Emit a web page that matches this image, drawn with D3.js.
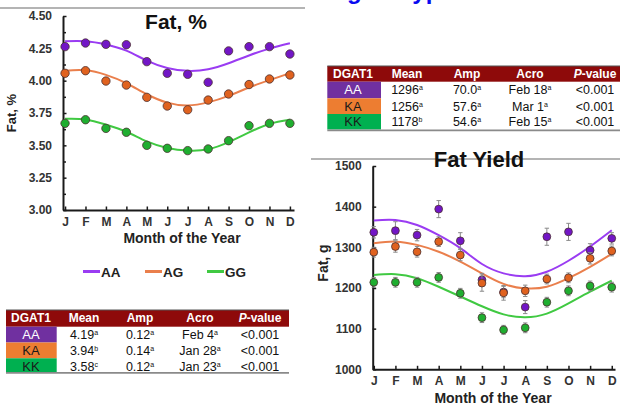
<!DOCTYPE html>
<html><head><meta charset="utf-8">
<script src="https://cdn.jsdelivr.net/npm/d3@7"></script>
<style>
body{margin:0;background:#fff;}
svg{display:block;font-family:"Liberation Sans",Arial,Helvetica,sans-serif;}
</style>
</head><body>
<svg id="c" width="620" height="408"></svg>
<script>
// ---------------- DATA ----------------
const months = ["J","F","M","A","M","J","J","A","S","O","N","D"];
const seriesNames = ["AA","AG","GG"];

// Fat, % (monthly means)
const fatPctAA = [4.263,4.291,4.281,4.278,4.147,4.057,4.049,3.987,4.230,4.263,4.263,4.206];
const fatPctAG = [4.057,4.077,3.997,3.966,3.871,3.804,3.775,3.850,3.897,3.970,4.013,4.044];
const fatPctGG = [3.670,3.698,3.631,3.601,3.500,3.477,3.459,3.472,3.536,3.652,3.670,3.670];
// Fat, % fitted curves (read at each month)
const fitPctAA = [4.305,4.305,4.280,4.232,4.155,4.098,4.076,4.088,4.135,4.195,4.248,4.289];
const fitPctAG = [4.077,4.080,4.045,3.980,3.895,3.830,3.808,3.832,3.882,3.947,4.004,4.058];
const fitPctGG = [3.705,3.700,3.660,3.605,3.530,3.480,3.460,3.470,3.525,3.600,3.665,3.697];
const pctTicks = [3.00,3.25,3.50,3.75,4.00,4.25,4.50];
const pctMinorTicks = [3.125,3.375,3.625,3.875,4.125,4.375];

// Fat yield, g (monthly means and SE)
const yieldAA = [1337,1341,1330,1394,1316,1220,1190,1153,1326,1338,1293,1322];
const yieldAG = [1288,1302,1289,1314,1281,1212,1188,1193,1222,1225,1273,1291];
const yieldGG = [1214,1214,1214,1226,1187,1127,1097,1102,1165,1193,1205,1202];
const errAA = [14,22,14,21,20,16,14,16,21,21,16,14];
const errAG = [12,14,13,12,14,20,18,14,12,12,14,12];
const errGG = [12,12,12,12,12,12,11,12,12,12,12,12];
// Fat yield fitted curves (read at each month)
const fitYieldAA = [1366,1367,1355,1330,1298,1259,1236,1229,1240,1267,1302,1342];
const fitYieldAG = [1310,1314,1306,1289,1265,1236,1210,1199,1203,1224,1252,1284];
const fitYieldGG = [1232,1234,1224,1203,1179,1155,1135,1128,1137,1162,1191,1218];
const yieldTicks = [1000,1100,1200,1300,1400,1500];

// Tables
const tableHead = ["DGAT1","Mean","Amp","Acro","P-value"];
const tableGeno = ["AA","KA","KK"];
const pctMean = ["4.19","3.94","3.58"], pctMeanSup = ["a","b","c"];
const pctAmp = ["0.12","0.14","0.12"], pctAmpSup = ["a","a","a"];
const pctAcro = ["Feb 4","Jan 28","Jan 23"], pctAcroSup = ["a","a","a"];
const pctP = ["<0.001","<0.001","<0.001"];
const yldMean = ["1296","1256","1178"], yldMeanSup = ["a","a","b"];
const yldAmp = ["70.0","57.6","54.6"], yldAmpSup = ["a","a","a"];
const yldAcro = ["Feb 18","Mar 1","Feb 15"], yldAcroSup = ["a","a","a"];
const yldP = ["<0.001","<0.001","<0.001"];

// ---------------- STYLE ----------------
const dotColor = {AA:"#7216c6", AG:"#e0621f", GG:"#1fae30"};
const lineColor = {AA:"#9a3cf2", AG:"#ea7f4c", GG:"#40c942"};
const genoFill = {AA:"#7030a0", KA:"#ed7d31", KK:"#00b050"};
const genoText = {AA:"#ffffff", KA:"#1a1a1a", KK:"#1a1a1a"};

const svg = d3.select("#c");

// cut-off blue slide heading at very top
svg.append("text").attr("x",347).attr("y",-1.5)
  .attr("font-size",24).attr("font-weight","bold").attr("fill","#0a0af0")
  .text("genotype");

// gray rules
svg.append("line").attr("x1",0).attr("x2",305).attr("y1",8).attr("y2",8)
  .attr("stroke","#b4b4b4").attr("stroke-width",2);
svg.append("line").attr("x1",311).attr("x2",620).attr("y1",159).attr("y2",159)
  .attr("stroke","#b4b4b4").attr("stroke-width",2);

function styleAxis(g){
  g.select(".domain").attr("stroke","#1a1a1a").attr("stroke-width",2);
  g.selectAll(".tick line").attr("stroke","#1a1a1a").attr("stroke-width",1.5);
  g.selectAll(".tick text").attr("font-size",12).attr("font-weight","bold")
    .attr("fill","#333").attr("font-family","'Liberation Sans',Arial,sans-serif");
}

function drawChart(opt){
  const x = d3.scaleLinear().domain(opt.xDomain).range(opt.xRange);
  const y = d3.scaleLinear().domain(opt.yDomain).range(opt.yRange);
  const idx = d3.range(1,13);

  // y axis
  const ya = svg.append("g").attr("transform",`translate(${opt.xRange[0]},0)`)
    .call(d3.axisLeft(y).tickValues(opt.yTicks).tickFormat(opt.yFmt)
      .tickSize(-3.5).tickSizeOuter(0).tickPadding(11));
  styleAxis(ya);
  if(opt.yMinor){
    const ym = svg.append("g").attr("transform",`translate(${opt.xRange[0]},0)`)
      .call(d3.axisLeft(y).tickValues(opt.yMinor).tickFormat("").tickSize(-3).tickSizeOuter(0));
    ym.select(".domain").remove();
    ym.selectAll(".tick line").attr("stroke","#1a1a1a").attr("stroke-width",1.5);
  }
  // x axis
  const xa = svg.append("g").attr("transform",`translate(0,${opt.yRange[0]})`)
    .call(d3.axisBottom(x).tickValues(idx).tickFormat(d=>months[d-1])
      .tickSize(-3.5).tickSizeOuter(0).tickPadding(7));
  styleAxis(xa);

  // titles
  svg.append("text").attr("x",opt.titleX).attr("y",opt.titleY).attr("text-anchor","middle")
    .attr("font-size",opt.titleSize).attr("font-weight","bold").attr("fill","#111").text(opt.title);
  svg.append("text").attr("x",opt.xTitleX).attr("y",opt.xTitleY).attr("text-anchor","middle")
    .attr("font-size",14).attr("font-weight","bold").attr("fill","#222").text("Month of the Year");
  svg.append("text").attr("transform",`translate(${opt.yTitleX},${opt.yTitleY}) rotate(-90)`)
    .attr("text-anchor","middle").attr("font-size",opt.yTitleSize).attr("font-weight","bold")
    .attr("fill","#222").text(opt.yTitle);

  const line = d3.line().x((d,i)=>x(i+1)).y(d=>y(d)).curve(d3.curveNatural);
  const gLines = svg.append("g"), gDots = svg.append("g");
  opt.series.forEach(s=>{
    gLines.append("path").datum(s.fit).attr("d",line).attr("fill","none")
      .attr("stroke",lineColor[s.name]).attr("stroke-width",2);
  });
  opt.series.forEach(s=>{
    const gs = gDots.append("g");
    if(s.err){
      s.vals.forEach((v,i)=>{
        const cx = x(i+1), y1 = y(v+s.err[i]), y2 = y(v-s.err[i]);
        gs.append("line").attr("x1",cx).attr("x2",cx).attr("y1",y1).attr("y2",y2)
          .attr("stroke","#8a8a8a").attr("stroke-width",1);
        [y1,y2].forEach(yy=>gs.append("line").attr("x1",cx-2.2).attr("x2",cx+2.2)
          .attr("y1",yy).attr("y2",yy).attr("stroke","#8a8a8a").attr("stroke-width",1));
      });
    }
    gs.selectAll("circle").data(s.vals).join("circle")
      .attr("cx",(d,i)=>x(i+1)).attr("cy",d=>y(d)).attr("r",opt.r)
      .attr("fill",dotColor[s.name]).attr("stroke","#4a3030").attr("stroke-width",0.8);
  });
  return {x,y};
}

// ---- Left chart: Fat, %
drawChart({
  xDomain:[0.9,12.2], xRange:[63,294],
  yDomain:[3,4.5], yRange:[210,16],
  yTicks:pctTicks, yMinor:pctMinorTicks, yFmt:d3.format(".2f"),
  title:"Fat, %", titleX:176, titleY:29, titleSize:21,
  xTitleX:182, xTitleY:242.5, yTitle:"Fat, %", yTitleX:16, yTitleY:113, yTitleSize:13,
  r:4.2,
  series:[
    {name:"AA", vals:fatPctAA, fit:fitPctAA},
    {name:"AG", vals:fatPctAG, fit:fitPctAG},
    {name:"GG", vals:fatPctGG, fit:fitPctGG}
  ]
});

// legend
const legX = [83,145,207];
seriesNames.forEach((n,i)=>{
  svg.append("line").attr("x1",legX[i]).attr("x2",legX[i]+17).attr("y1",271.5).attr("y2",271.5)
    .attr("stroke",lineColor[n]).attr("stroke-width",3);
  svg.append("text").attr("x",legX[i]+18).attr("y",276.5).attr("font-size",13.5)
    .attr("font-weight","bold").attr("fill","#222").text(n);
});

// ---- Right chart: Fat Yield
drawChart({
  xDomain:[0.95,12.15], xRange:[372.7,615],
  yDomain:[1000,1500], yRange:[369.3,166],
  yTicks:yieldTicks, yMinor:null, yFmt:d3.format("d"),
  title:"Fat Yield", titleX:479, titleY:166.5, titleSize:22,
  xTitleX:493, xTitleY:402.5, yTitle:"Fat, g", yTitleX:328, yTitleY:263, yTitleSize:14,
  r:3.9,
  series:[
    {name:"AA", vals:yieldAA, fit:fitYieldAA, err:errAA},
    {name:"AG", vals:yieldAG, fit:fitYieldAG, err:errAG},
    {name:"GG", vals:yieldGG, fit:fitYieldGG, err:errGG}
  ]
});

// ---- Tables
function drawTable(t){
  const g = svg.append("g");
  g.append("rect").attr("x",t.x0).attr("y",t.headTop).attr("width",t.x1-t.x0)
    .attr("height",t.rowTops[0]-t.headTop).attr("fill","#8e0a0a");
  tableGeno.forEach((gname,i)=>{
    const top = t.rowTops[i], bot = (i<2? t.rowTops[i+1] : t.bottom);
    g.append("rect").attr("x",t.x0).attr("y",top).attr("width",t.firstW)
      .attr("height",bot-top).attr("fill",genoFill[gname]);
  });
  g.append("line").attr("x1",t.x0).attr("x2",t.x1).attr("y1",t.headTop).attr("y2",t.headTop)
    .attr("stroke","#555").attr("stroke-width",1.2);
  g.append("line").attr("x1",t.x0).attr("x2",t.x1).attr("y1",t.bottom+0.8).attr("y2",t.bottom+0.8)
    .attr("stroke","#8a8a8a").attr("stroke-width",1.8);
  tableHead.forEach((h,j)=>{
    const tx = g.append("text").attr("x",t.cx[j]).attr("y",t.headTop+12.3)
      .attr("text-anchor","middle").attr("font-size",12).attr("font-weight","bold").attr("fill","#fff");
    if(h.startsWith("P-")){
      tx.append("tspan").attr("font-style","italic").text("P");
      tx.append("tspan").text(h.slice(1));
    } else tx.text(h);
  });
  tableGeno.forEach((gname,i)=>{
    const base = t.rowTops[i]+12.2;
    g.append("text").attr("x",t.cx[0]).attr("y",base).attr("text-anchor","middle")
      .attr("font-size",13).attr("fill",genoText[gname]).text(gname);
    t.cols.forEach((c,j)=>{
      const tx = g.append("text").attr("x",t.cx[j+1]).attr("y",base).attr("text-anchor","middle")
        .attr("font-size",12.5).attr("fill","#111");
      tx.append("tspan").text(c.v[i]);
      if(c.s) tx.append("tspan").attr("font-size",7).attr("dy",-4).text(c.s[i]);
    });
  });
}

drawTable({
  x0:6, x1:289, firstW:50.7, headTop:310, rowTops:[326.7,342.5,358.3], bottom:372,
  cx:[31,84,140,200,260],
  cols:[{v:pctMean,s:pctMeanSup},{v:pctAmp,s:pctAmpSup},{v:pctAcro,s:pctAcroSup},{v:pctP}]
});
drawTable({
  x0:327.3, x1:622, firstW:53.7, headTop:66, rowTops:[81.7,98.3,114], bottom:129.5,
  cx:[353,407,467,530,595],
  cols:[{v:yldMean,s:yldMeanSup},{v:yldAmp,s:yldAmpSup},{v:yldAcro,s:yldAcroSup},{v:yldP}]
});
</script>
</body></html>
